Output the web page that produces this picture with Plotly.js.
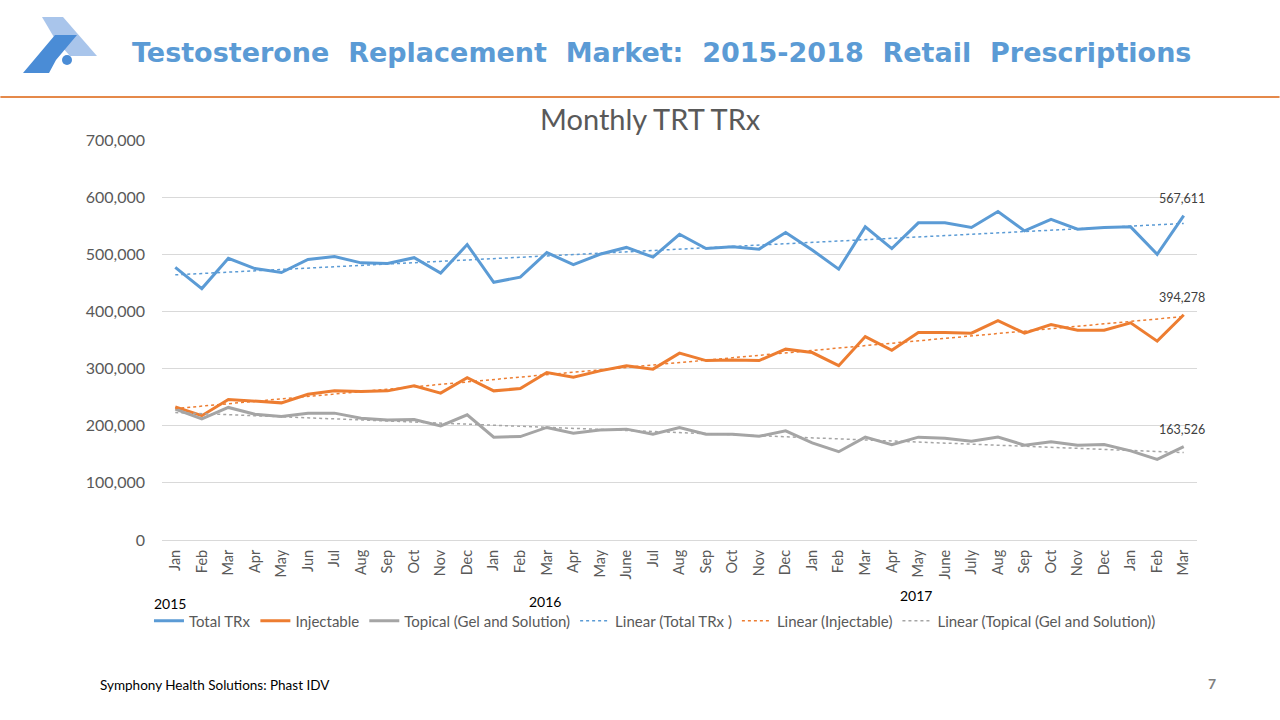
<!DOCTYPE html>
<html>
<head>
<meta charset="utf-8">
<script src="https://cdn.plot.ly/plotly-3.0.1.min.js"></script>
<style>
  html, body { margin: 0; padding: 0; background: #ffffff; }
  #wrap { position: relative; width: 1280px; height: 720px; }
  #chart { width: 1280px; height: 720px; }
  #logo { position: absolute; left: 0; top: 0; }
</style>
</head>
<body>
<div id="wrap">
  <div id="chart"></div>
  <svg id="logo" width="110" height="85" viewBox="0 0 110 85">
    <polygon points="42,17 63,17 97,56 70,56 55,39" fill="#A9C5EB"/>
    <polygon points="55,35 77,35 56,60 49,73 23,73" fill="#4A8CD6"/>
    <circle cx="67" cy="60" r="5" fill="#4A8CD6"/>
  </svg>
</div>
<script>
// ---- Data ----
const months = ['Jan','Feb','Mar','Apr','May','Jun','Jul','Aug','Sep','Oct','Nov','Dec',
                'Jan','Feb','Mar','Apr','May','June','Jul','Aug','Sep','Oct','Nov','Dec',
                'Jan','Feb','Mar','Apr','May','June','July','Aug','Sep','Oct','Nov','Dec',
                'Jan','Feb','Mar'];
const totalTRx = [477000,440000,493000,475000,468000,491000,496000,485000,484000,494000,467000,517000,
                  451000,460000,503000,482000,500000,512000,495000,535000,510000,513000,509000,538000,
                  507500,474000,548000,510000,555000,555000,547000,575000,541000,561000,544000,547000,
                  548000,500000,567611];
const injectable = [233000,217500,246000,243000,240000,255000,261000,260000,261000,270000,257000,284000,
                    261000,265000,293000,285000,296000,305000,299000,327000,314000,315000,314000,334000,
                    328000,305000,356000,332000,363000,363000,362000,384000,362000,377000,367000,367000,
                    380000,348000,394278];
const topical = [229000,212000,232000,220000,216000,222000,222000,213000,210000,211000,199500,219000,
                 180000,181000,197000,187000,192500,194000,185000,197000,185000,185000,181500,191000,
                 170000,154500,180000,167000,180000,178000,173000,180000,166000,172000,166000,167000,
                 156000,141000,163526];
// Linear trendline end values (first and last month)
const totalTrend = [464000, 554000];
const injectableTrend = [230000, 391000];
const topicalTrend = [223000, 153000];
const yearLabels = ['2015', '2016', '2017'];
const yearLabelIdx = [0, 14, 28];
const seriesNames = ['Total TRx', 'Injectable', 'Topical (Gel and Solution)',
                     'Linear (Total TRx )', 'Linear (Injectable)', 'Linear (Topical (Gel and Solution))'];
const colors = ['#5B9BD5', '#ED7D31', '#A5A5A5'];

const idx = months.map((m, i) => i);
const trendX = [0, months.length - 1];

// ---- Layout helpers (pixel -> paper) ----
const PL = 161.7, PR = 1197.4, PT = 140, PB = 540;
const px = v => (v - PL) / (PR - PL);
const py = v => (PB - v) / (PB - PT);

const FONT = 'Lato, "Open Sans", sans-serif';

const traces = [
  {x: idx, y: totalTRx, name: seriesNames[0], type: 'scatter', mode: 'lines',
   line: {color: colors[0], width: 3}},
  {x: idx, y: injectable, name: seriesNames[1], type: 'scatter', mode: 'lines',
   line: {color: colors[1], width: 3}},
  {x: idx, y: topical, name: seriesNames[2], type: 'scatter', mode: 'lines',
   line: {color: colors[2], width: 3}},
  {x: trendX, y: totalTrend, name: seriesNames[3], type: 'scatter', mode: 'lines',
   line: {color: colors[0], width: 1.5, dash: 'dot'}},
  {x: trendX, y: injectableTrend, name: seriesNames[4], type: 'scatter', mode: 'lines',
   line: {color: colors[1], width: 1.5, dash: 'dot'}},
  {x: trendX, y: topicalTrend, name: seriesNames[5], type: 'scatter', mode: 'lines',
   line: {color: colors[2], width: 1.5, dash: 'dot'}}
];

const last = months.length - 1;
const fmt = v => v.toLocaleString('en-US');
const annotations = [
  {xref: 'paper', yref: 'paper', x: px(662), y: py(52), text: 'Testosterone  Replacement  Market:  2015-2018  Retail  Prescriptions',
   showarrow: false, xanchor: 'center', yanchor: 'middle',
   font: {family: '"DejaVu Sans", Verdana, sans-serif', size: 27, color: '#5B9BD5', weight: 'bold'}},
  {xref: 'paper', yref: 'paper', x: px(651), y: py(118), text: 'Monthly TRT TRx',
   showarrow: false, xanchor: 'center', yanchor: 'middle',
   font: {family: FONT, size: 29, color: '#595959'}},
  {xref: 'paper', yref: 'paper', x: px(98), y: py(685), text: 'Symphony Health Solutions: Phast IDV',
   showarrow: false, xanchor: 'left', yanchor: 'middle',
   font: {family: FONT, size: 13.5, color: '#000000'}},
  {xref: 'paper', yref: 'paper', x: px(1212), y: py(683), text: '<b>7</b>',
   showarrow: false, xanchor: 'center', yanchor: 'middle',
   font: {family: FONT, size: 14, color: '#7F7F7F'}}
];
[totalTRx, injectable, topical].forEach(s => {
  annotations.push({x: last, y: s[last], xref: 'x', yref: 'y', text: fmt(s[last]),
    showarrow: false, xanchor: 'center', yanchor: 'bottom', xshift: -2, yshift: 8,
    font: {family: FONT, size: 12.5, color: '#404040'}});
});
yearLabels.forEach((t, i) => {
  annotations.push({x: yearLabelIdx[i], xref: 'x', yref: 'paper', y: py([603, 601, 595][i]),
    text: t, showarrow: false, xanchor: 'center', yanchor: 'middle', xshift: i === 0 ? -5 : -2,
    font: {family: FONT, size: 14, color: '#000000'}});
});

const layout = {
  width: 1280, height: 720,
  margin: {l: PL, r: 1280 - PR, t: PT, b: 720 - PB, pad: 0},
  paper_bgcolor: '#ffffff', plot_bgcolor: '#ffffff',
  font: {family: FONT, color: '#595959'},
  showlegend: true,
  legend: {orientation: 'h', x: px(655), xanchor: 'center', y: py(621), yanchor: 'middle',
           font: {family: FONT, size: 15, color: '#595959'}, itemwidth: 30, tracegroupgap: 0,
           bgcolor: 'rgba(0,0,0,0)'},
  xaxis: {range: [-0.5, months.length - 0.5], tickmode: 'array', tickvals: idx, ticktext: months,
          tickangle: -90, showgrid: false, zeroline: false, showline: true, linecolor: '#D9D9D9',
          linewidth: 1, ticks: '', tickfont: {family: FONT, size: 14.5, color: '#595959'},
          ticklabelstandoff: 3, fixedrange: true},
  yaxis: {range: [0, 700000], dtick: 100000, tickformat: ',d', showgrid: true, gridcolor: '#D9D9D9',
          gridwidth: 1, zeroline: false, showline: false, ticks: '',
          ticklabelstandoff: 16,
          tickfont: {family: FONT, size: 16, color: '#595959'}, fixedrange: true},
  shapes: [
    {type: 'line', xref: 'paper', yref: 'paper', x0: px(0), x1: px(1280), y0: py(97), y1: py(97),
     line: {color: '#E5894A', width: 2}}
  ],
  annotations: annotations
};

Plotly.newPlot('chart', traces, layout, {displayModeBar: false, staticPlot: true});
</script>
</body>
</html>
